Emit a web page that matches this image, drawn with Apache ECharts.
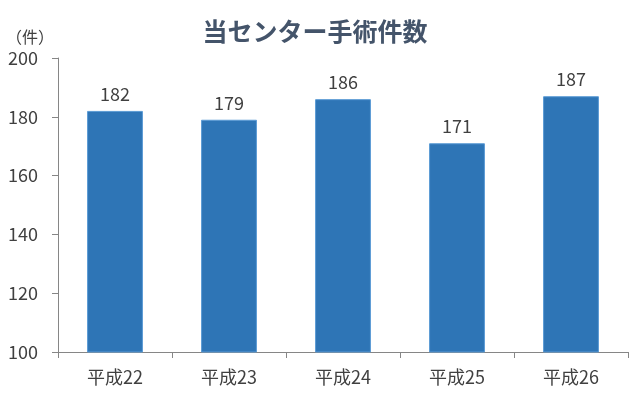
<!DOCTYPE html>
<html>
<head>
<meta charset="utf-8">
<script src="https://cdn.jsdelivr.net/npm/echarts@6/dist/echarts.min.js"></script>
<style>
  html, body { margin: 0; padding: 0; background: #fff; }
  #chart { width: 630px; height: 410px; }
</style>
</head>
<body>
<div id="chart"></div>
<script>
const categories = ['平成22', '平成23', '平成24', '平成25', '平成26']
const surgeries = [182, 179, 186, 171, 187]
const yTicks = { min: 100, max: 200, interval: 20 }

const font = '"Noto Sans CJK JP", "Noto Sans", sans-serif'
const textColor = '#404040'

const chart = echarts.init(document.getElementById('chart'))
chart.setOption({
  animation: false,
  textStyle: { fontFamily: font },
  title: {
    text: '当センター手術件数',
    left: 'center',
    top: 14,
    textStyle: { fontSize: 25, fontWeight: 'bold', color: '#44546A', fontFamily: font }
  },
  grid: { left: 58, right: 2, top: 58, bottom: 58, containLabel: false, outerBoundsMode: 'none' },
  xAxis: {
    type: 'category',
    data: categories,
    axisLine: { lineStyle: { color: '#868686', width: 1 } },
    axisTick: { show: true, length: 6, lineStyle: { color: '#868686' } },
    axisLabel: { fontSize: 18, color: textColor, margin: 16 }
  },
  yAxis: {
    type: 'value',
    name: '（件）',
    nameLocation: 'end',
    nameGap: 13,
    nameTextStyle: { fontSize: 16, color: textColor, align: 'right', padding: [0, 4, 0, 0], fontFamily: font },
    min: yTicks.min,
    max: yTicks.max,
    interval: yTicks.interval,
    axisLine: { show: true, lineStyle: { color: '#868686', width: 1 } },
    axisTick: { show: true, length: 6, lineStyle: { color: '#868686' } },
    axisLabel: { fontSize: 18, color: textColor, margin: 20 },
    splitLine: { show: false }
  },
  series: [{
    type: 'bar',
    data: surgeries,
    barWidth: '49%',
    itemStyle: { color: '#2E75B6', borderColor: '#5B9BD5', borderWidth: 1 },
    label: { show: true, position: 'top', distance: 8, fontSize: 18, color: textColor }
  }]
})
</script>
</body>
</html>
